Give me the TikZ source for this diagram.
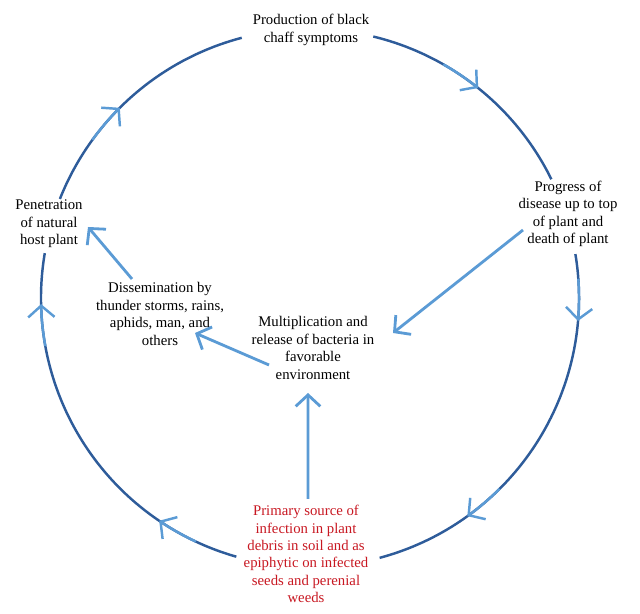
\documentclass[tikz,border=0pt]{standalone}
\usepackage{fontspec}
\setmainfont{Liberation Serif}
\usetikzlibrary{arrows.meta}
\definecolor{cycblue}{RGB}{46,92,154}
\definecolor{arrblue}{RGB}{91,155,213}
\definecolor{srcred}{RGB}{200,24,34}

\begin{document}
\begin{tikzpicture}[
	cyc/.style={draw=cycblue, line width=1.4pt},
	cycarr/.style={draw=arrblue, line width=1.4pt, -{Straight Barb[length=6.5pt,width=15pt,line width=1.4pt]}},
	flow/.style={draw=arrblue, line width=1.6pt, -{Straight Barb[length=6.5pt,width=14pt,line width=1.6pt]}},
	stage/.style={align=center, inner sep=0pt, font=\fontsize{8.4}{9.9}\selectfont}
	]
	\useasboundingbox (0,0) rectangle (12.8,12.28);
	\coordinate (c) at (6.2,6.32);
	
	% text of the cycle
	\node[stage] (prod) at (6.22,11.68) {Production of black\\chaff symptoms};
	\node[stage] (prog) at (11.36,8.0) {Progress of\\disease up to top\\of plant and\\death of plant};
	\node[stage] (pene) at (0.98,7.8) {Penetration\\of natural\\host plant};
	\node[stage] (diss) at (3.2,6.0) {Dissemination by\\thunder storms, rains,\\aphids, man, and\\others};
	\node[stage] (mult) at (6.26,5.32) {Multiplication and\\release of bacteria in\\favorable\\environment};
	\node[stage, text=srcred] (prim) at (6.12,1.2) {Primary source of\\infection in plant\\debris in soil and as\\epiphytic on infected\\seeds and perenial\\weeds};
	
	% the circle, broken at the texts
	\draw[cyc] (c) ++(254.1:5.38) arc (254.1:170.4:5.38);
	\draw[cyc] (c) ++(158.4:5.38) arc (158.4:104.7:5.38);
	\draw[cyc] (c) ++(76.4:5.38) arc (76.4:26.2:5.38);
	\draw[cyc] (c) ++(9.4:5.38) arc (9.4:-75:5.38);
	
	% arrow heads on the circle
	\foreach \a in {51.3,-4.9,-54.2,-124.1,181.3,135}
		\draw[cycarr] (c) ++(\a+9:5.38) arc (\a+9:\a:5.38);
	
	% inner arrows
	\draw[flow] ([xshift=-0.90cm,yshift=-0.32cm]prog.center) -- ([xshift=1.60cm,yshift=0.30cm]mult.center);
	\draw[flow] ([xshift=-0.88cm,yshift=-0.34cm]mult.center) -- ([xshift=0.70cm,yshift=-0.38cm]diss.center);
	\draw[flow] ([xshift=-0.56cm,yshift=0.70cm]diss.center) -- ([xshift=0.78cm,yshift=-0.06cm]pene.center);
	\draw[flow] ([xshift=0.04cm,yshift=1.10cm]prim.center) -- ([xshift=-0.10cm,yshift=-0.90cm]mult.center);
	
\end{tikzpicture}
\end{document}
